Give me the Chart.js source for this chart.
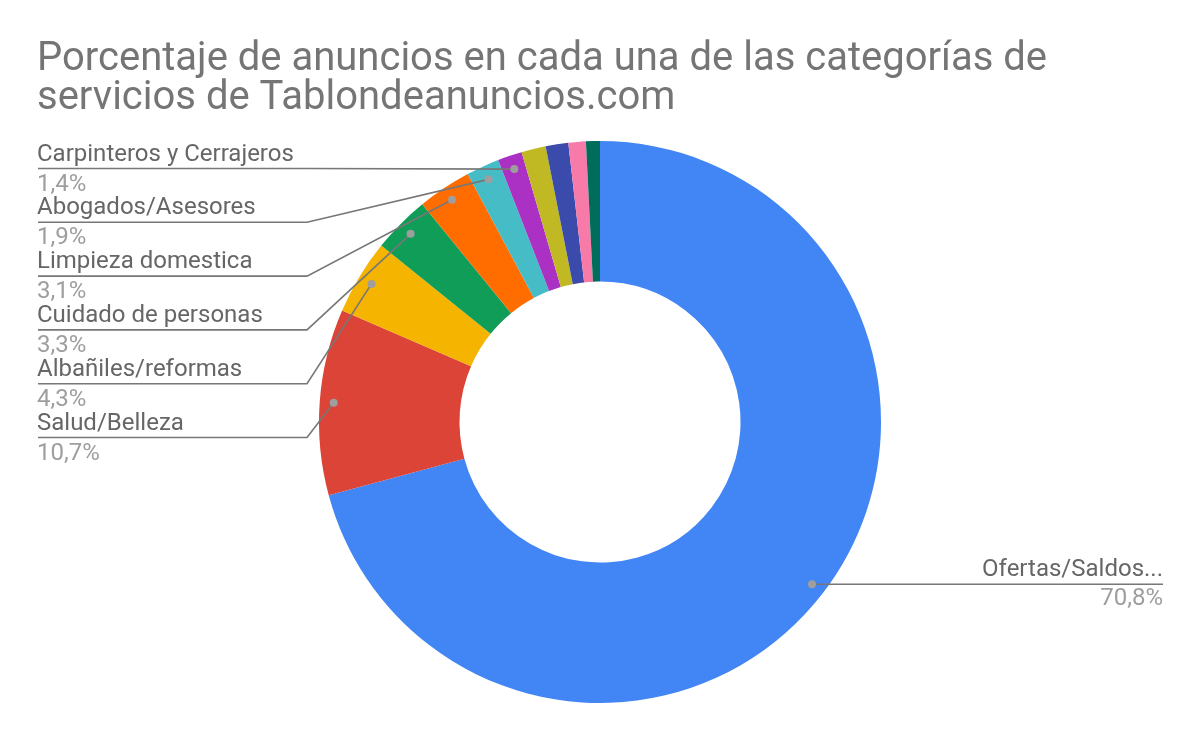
<!DOCTYPE html>
<html>
<head>
<meta charset="utf-8">
<script src="https://cdn.jsdelivr.net/npm/chart.js@4/dist/chart.umd.min.js"></script>
<style>
    html, body { margin: 0; padding: 0; background: #fff; }
    #wrap { width: 1200px; height: 742px; position: relative; }
</style>
</head>
<body>
<div id="wrap"><canvas id="services_chart"></canvas></div>
<script>
const titleLines = [
    "Porcentaje de anuncios en cada una de las categorías de",
    "servicios de Tablondeanuncios.com"
]

const categories = [
    "Ofertas/Saldos...",
    "Salud/Belleza",
    "Albañiles/reformas",
    "Cuidado de personas",
    "Limpieza domestica",
    "Abogados/Asesores",
    "Carpinteros y Cerrajeros",
    "Otros 1",
    "Otros 2",
    "Otros 3",
    "Otros 4"
]
const shares = [70.8, 10.7, 4.3, 3.3, 3.1, 1.9, 1.4, 1.4, 1.3, 1.0, 0.8]
const colors = [
    "#4285F4", "#DB4437", "#F4B400", "#0F9D58", "#FF6D00", "#46BDC6",
    "#AB30C4", "#C0B923", "#3B4BAB", "#F77AA8", "#006D5B"
]
// slices that get a callout (the rest are too small)
const labeledRight = [0]
const labeledLeft = [1, 2, 3, 4, 5, 6]

const services_chart = document.querySelector("#services_chart")

function pctText(v) {
    return v.toFixed(1).replace(".", ",") + "%"
}

const calloutPlugin = {
    id: "callouts",
    afterDraw(chart) {
        const ctx = chart.ctx
        const meta = chart.getDatasetMeta(0)

        ctx.save()
        // title
        ctx.fillStyle = "#757575"
        ctx.font = "40px Roboto"
        ctx.textBaseline = "alphabetic"
        ctx.textAlign = "left"
        ctx.fillText(titleLines[0], 37, 70)
        ctx.fillText(titleLines[1], 37, 109)

        function dotOf(i) {
            const arc = meta.data[i]
            const mid = (arc.startAngle + arc.endAngle) / 2
            const r = arc.outerRadius - 14
            return {x: arc.x + Math.cos(mid) * r, y: arc.y + Math.sin(mid) * r}
        }

        function drawDot(p) {
            ctx.fillStyle = "#9E9E9E"
            ctx.beginPath()
            ctx.arc(p.x, p.y, 4, 0, Math.PI * 2)
            ctx.fill()
        }

        ctx.lineWidth = 1.6
        ctx.strokeStyle = "#777777"
        ctx.font = "24px Roboto"
        ctx.textBaseline = "alphabetic"

        // left side callouts, stacked from the bottom up
        labeledLeft.forEach((idx, k) => {
            const lineY = 437.5 - k * 53.8
            const p = dotOf(idx)
            ctx.beginPath()
            ctx.moveTo(38, lineY)
            ctx.lineTo(307, lineY)
            ctx.lineTo(p.x, p.y)
            ctx.stroke()
            drawDot(p)
            ctx.textAlign = "left"
            ctx.fillStyle = "#666666"
            ctx.fillText(categories[idx], 37, lineY - 8)
            ctx.fillStyle = "#9E9E9E"
            ctx.fillText(pctText(shares[idx]), 37, lineY + 22)
        })

        // right side callout
        labeledRight.forEach((idx) => {
            const p = dotOf(idx)
            const lineY = p.y
            ctx.beginPath()
            ctx.moveTo(p.x, lineY)
            ctx.lineTo(1163, lineY)
            ctx.stroke()
            drawDot(p)
            ctx.textAlign = "right"
            ctx.fillStyle = "#666666"
            ctx.fillText(categories[idx], 1163, lineY - 8)
            ctx.fillStyle = "#9E9E9E"
            ctx.fillText(pctText(shares[idx]), 1163, lineY + 21)
        })
        ctx.restore()
    }
}

function create_doughnut_chart(ctx, labels, values, bg) {
    let data = {
        labels: labels,
        datasets: [{
            data: values,
            backgroundColor: bg,
            borderWidth: 0
        }]
    }

    const config = {
        type: "doughnut",
        data: data,
        options: {
            responsive: true,
            maintainAspectRatio: false,
            animation: false,
            cutout: "50%",
            layout: {
                padding: {left: 319, right: 319, top: 141, bottom: 39}
            },
            plugins: {
                legend: {display: false},
                tooltip: {enabled: false}
            }
        },
        plugins: [calloutPlugin]
    }
    return new Chart(ctx, config)
}

create_doughnut_chart(services_chart, categories, shares, colors)
</script>
</body>
</html>
